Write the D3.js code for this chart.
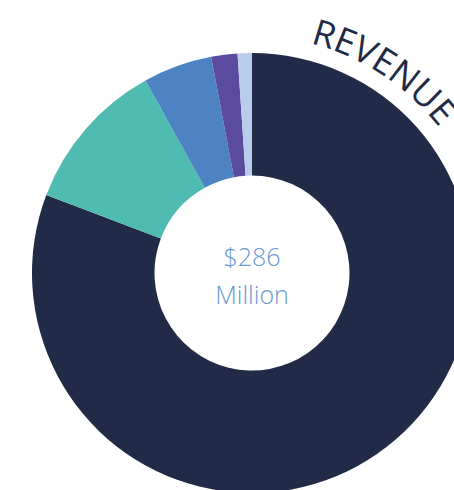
<!DOCTYPE html>
<html>
<head>
<meta charset="utf-8">
<script src="https://cdn.jsdelivr.net/npm/d3@7"></script>
<style>
  html, body { margin: 0; padding: 0; background: #fff; overflow: hidden; }
</style>
</head>
<body>
<div id="chart"></div>
<script>
// revenue donut (millions)
const categories = ['A', 'B', 'C', 'D', 'E'];
const values = [231, 32, 14.5, 5.5, 3];
const colors = ['#212a47', '#4fbbb1', '#4d82c3', '#5b4b9e', '#b7cdeb'];
const title = 'REVENUE';
const centerLines = ['$286', 'Million'];

const width = 454;
const height = 490;
const cx = 252, cy = 273;
const outerR = 220, innerR = 97.5;

const svg = d3.select('#chart')
  .append('svg')
  .attr('width', width)
  .attr('height', height);

const g = svg.append('g')
  .attr('transform', `translate(${cx},${cy})`);

const data = categories.map((c, i) => ({ name: c, value: values[i] }));

const pie = d3.pie()
  .value(d => d.value)
  .sort(null);

const arc = d3.arc()
  .innerRadius(innerR)
  .outerRadius(outerR);

const color = d3.scaleOrdinal()
  .domain(categories)
  .range(colors);

g.selectAll('path.slice')
  .data(pie(data))
  .enter().append('path')
  .attr('class', 'slice')
  .attr('d', arc)
  .attr('fill', d => color(d.data.name));

// curved title along a circle outside the ring
const textR = 237;
const startA = 14.2 * Math.PI / 180;
const p = d3.path();
p.arc(0, 0, textR, startA - Math.PI / 2, Math.PI - Math.PI / 2);
g.append('path')
  .attr('id', 'titlePath')
  .attr('d', p.toString())
  .attr('fill', 'none');

g.append('text')
  .attr('font-family', '"Open Sans", sans-serif')
  .attr('font-size', 36)
  .attr('fill', '#212a47')
  .append('textPath')
  .attr('href', '#titlePath')
  .text(title);

// centre label
g.selectAll('text.center')
  .data(centerLines)
  .enter().append('text')
  .attr('class', 'center')
  .attr('text-anchor', 'middle')
  .attr('x', 0)
  .attr('y', (d, i) => -7 + i * 38)
  .attr('font-family', '"Open Sans", sans-serif')
  .attr('font-weight', 300)
  .attr('font-size', 25)
  .attr('fill', '#6a98d3')
  .text(d => d);
</script>
</body>
</html>
